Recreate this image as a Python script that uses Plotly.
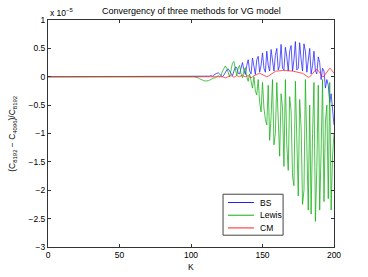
import plotly.graph_objects as go

# Strike grid
K = list(range(0, 201))

# Relative differences, in units of 1e-5
BS = [
    0, 0, 0, 0, 0, 0, 0, 0, 0, 0,   # 0-9
    0, 0, 0, 0, 0, 0, 0, 0, 0, 0,   # 10-19
    0, 0, 0, 0, 0, 0, 0, 0, 0, 0,   # 20-29
    0, 0, 0, 0, 0, 0, 0, 0, 0, 0,   # 30-39
    0, 0, 0, 0, 0, 0, 0, 0, 0, 0,   # 40-49
    0, 0, 0, 0, 0, 0, 0, 0, 0, 0,   # 50-59
    0, 0, 0, 0, 0, 0, 0, 0, 0, 0,   # 60-69
    0, 0, 0, 0, 0, 0, 0, 0, 0, 0,   # 70-79
    0, 0, 0, 0, 0, 0, 0, 0, 0, 0,   # 80-89
    0, 0, 0, 0, 0, 0, 0, 0, 0, 0,   # 90-99
    0, 0, 0, 0, 0, 0, 0, 0, 0, 0,   # 100-109
    0, 0, 0, 0.01, 0.02, 0.01, 0.03, 0.05, 0.06, 0.07,   # 110-119
    0.05, 0.02, 0.0, 0.03, 0.08, 0.12, 0.14, 0.10, 0.04, 0.02,   # 120-129
    0.10, 0.17, 0.16, 0.06, 0.05, 0.18, 0.25, 0.12, 0.04, 0.20,   # 130-139
    0.30, 0.10, 0.05, 0.33, 0.15, 0.04, 0.30, 0.36, 0.08, 0.20,   # 140-149
    0.42, 0.15, 0.08, 0.45, 0.20, 0.10, 0.48, 0.30, 0.10, 0.38,   # 150-159
    0.50, 0.12, 0.20, 0.57, 0.15, 0.12, 0.52, 0.35, 0.10, 0.45,   # 160-169
    0.55, 0.10, 0.30, 0.62, 0.12, 0.15, 0.60, 0.30, 0.10, 0.58,   # 170-179
    0.45, 0.08, 0.35, 0.50, 0.05, 0.20, 0.45, 0.10, 0.05, 0.35,   # 180-189
    0.25, -0.05, 0.15, 0.10, -0.20, -0.05, -0.15, -0.45, -0.30, -0.60,   # 190-199
    -0.85,   # 200
]

Lewis = [
    0, 0, 0, 0, 0, 0, 0, 0, 0, 0,   # 0-9
    0, 0, 0, 0, 0, 0, 0, 0, 0, 0,   # 10-19
    0, 0, 0, 0, 0, 0, 0, 0, 0, 0,   # 20-29
    0, 0, 0, 0, 0, 0, 0, 0, 0, 0,   # 30-39
    0, 0, 0, 0, 0, 0, 0, 0, 0, 0,   # 40-49
    0, 0, 0, 0, 0, 0, 0, 0, 0, 0,   # 50-59
    0, 0, 0, 0, 0, 0, 0, 0, 0, 0,   # 60-69
    0, 0, 0, 0, 0, 0, 0, 0, 0, 0,   # 70-79
    0, 0, 0, 0, 0, 0, 0, 0, 0.003, 0.005,   # 80-89
    0.008, 0.01, 0.01, 0.012, 0.01, 0.008, 0.005, 0.003, 0.0, 0.005,   # 90-99
    0.01, 0.005, 0.0, -0.005, -0.01, -0.02, -0.035, -0.05, -0.06, -0.07,   # 100-109
    -0.075, -0.075, -0.07, -0.06, -0.045, -0.03, -0.02, -0.02, 0.0, 0.02,   # 110-119
    0.0, 0.02, 0.10, 0.16, 0.19, 0.15, 0.05, 0.0, 0.12, 0.24,   # 120-129
    0.27, 0.12, 0.02, 0.15, 0.20, 0.05, -0.02, 0.10, 0.16, 0.0,   # 130-139
    -0.08, 0.05, -0.12, -0.20, 0.0, -0.25, -0.32, -0.05, -0.45, -0.62,   # 140-149
    -0.10, -0.55, -0.75, -0.85, -0.15, -1.12, -0.70, -0.05, -1.20, -1.00,   # 150-159
    -0.10, -0.90, -1.40, -0.30, -0.55, -1.58, -0.05, -1.20, -1.65, -0.35,   # 160-169
    -0.60, -1.75, -1.92, -0.08, -1.30, -2.10, -0.40, -0.90, -2.25, -2.00,   # 170-179
    -0.05, -1.50, -2.35, -0.50, -2.42, -1.00, -0.10, -2.55, -1.60, -0.15,   # 180-189
    -2.35, -1.30, -0.05, -2.20, -0.80, -0.50, -2.15, -0.10, -2.35, -1.40,   # 190-199
    -1.00,   # 200
]

CM = [
    0, 0, 0, 0, 0, 0, 0, 0, 0, 0,   # 0-9
    0, 0, 0, 0, 0, 0, 0, 0, 0, 0,   # 10-19
    0, 0, 0, 0, 0, 0, 0, 0, 0, 0,   # 20-29
    0, 0, 0, 0, 0, 0, 0, 0, 0, 0,   # 30-39
    0, 0, 0, 0, 0, 0, 0, 0, 0, 0,   # 40-49
    0, 0, 0, 0, 0, 0, 0, 0, 0, 0,   # 50-59
    0, 0, 0, 0, 0, 0, 0, 0, 0, 0,   # 60-69
    0, 0, 0, 0, 0, 0, 0, 0, 0, 0,   # 70-79
    0, 0, 0, 0, 0, 0, 0, 0, 0, 0,   # 80-89
    0, 0, 0, 0, 0, 0, 0, 0, 0, 0,   # 90-99
    0, 0, 0, 0, 0, 0, 0, 0, 0, 0,   # 100-109
    0, 0, 0, 0, 0, 0, 0, 0, 0.0, 0.005,   # 110-119
    0.01, 0.005, 0.0, -0.01, -0.02, -0.01, 0.0, 0.01, 0.02, 0.005,   # 120-129
    -0.01, 0.005, 0.02, 0.01, 0.0, 0.015, 0.03, 0.01, 0.0, 0.01,   # 130-139
    0.02, 0.0, -0.02, 0.0, 0.02, 0.03, 0.04, 0.05, 0.06, 0.05,   # 140-149
    0.04, 0.02, 0.01, 0.0, 0.01, 0.03, 0.05, 0.07, 0.085, 0.095,   # 150-159
    0.10, 0.105, 0.11, 0.11, 0.11, 0.11, 0.11, 0.11, 0.105, 0.10,   # 160-169
    0.10, 0.10, 0.095, 0.09, 0.085, 0.08, 0.075, 0.07, 0.06, 0.045,   # 170-179
    0.03, 0.01, -0.01, 0.0, 0.02, 0.05, 0.09, 0.12, 0.13, 0.11,   # 180-189
    0.08, 0.04, 0.0, 0.01, 0.04, 0.08, 0.12, 0.15, 0.13, 0.10,   # 190-199
    0.06,   # 200
]

series_names = ["BS", "Lewis", "CM"]
series_colors = ["#2020ff", "#10b010", "#ff2020"]

x_ticks = [0, 50, 100, 150, 200]
y_ticks = [-3, -2.5, -2, -1.5, -1, -0.5, 0, 0.5, 1]
y_labels = ["\u22123", "\u22122.5", "\u22122", "\u22121.5", "\u22121", "\u22120.5", "0", "0.5", "1"]

FONT = "Liberation Sans, Arial, Helvetica, sans-serif"
TXT = dict(family=FONT, size=8.5, color="#000")
TITLE_TXT = dict(family=FONT, size=9, color="#000")

fig = go.Figure()
for name, vals, col in zip(series_names, [BS, Lewis, CM], series_colors):
    fig.add_trace(go.Scatter(x=K, y=vals, mode="lines", name=name,
                             line=dict(color=col, width=0.75), showlegend=False))

axis_common = dict(showgrid=False, zeroline=False, showline=True, mirror="ticks",
                   linecolor="#333333", linewidth=1, ticks="inside", ticklen=3,
                   tickcolor="#333333", tickfont=TXT)

# Legend box (drawn as a guide in paper coordinates)
lg_x0, lg_x1, lg_y0, lg_y1 = 0.612, 0.822, 0.052, 0.2325
key_x0, key_x1, lab_x = 0.629, 0.720, 0.734
key_y = [0.196, 0.140, 0.084]

shapes = [dict(type="rect", xref="paper", yref="paper", x0=lg_x0, x1=lg_x1,
               y0=lg_y0, y1=lg_y1, line=dict(color="#444444", width=1),
               fillcolor="white", layer="above")]
annotations = []
for name, col, ky in zip(series_names, series_colors, key_y):
    shapes.append(dict(type="line", xref="paper", yref="paper", x0=key_x0, x1=key_x1,
                       y0=ky, y1=ky, line=dict(color=col, width=1), layer="above"))
    annotations.append(dict(text=name, xref="paper", yref="paper", x=lab_x, y=ky,
                            xanchor="left", yanchor="middle", showarrow=False, font=TXT))

annotations += [
    dict(text="x 10<sup>\u22125</sup>", xref="paper", yref="paper", x=0, y=1.0,
         xanchor="left", yanchor="bottom", showarrow=False, font=TXT),
    dict(text="(C<sub>8192</sub> \u2212 C<sub>4096</sub>)/C<sub>8192</sub>",
         xref="paper", yref="paper", x=-0.125, y=0.5, textangle=-90,
         xanchor="center", yanchor="middle", showarrow=False, font=TXT),
    dict(text="K", xref="paper", yref="paper", x=0.5, y=-0.088,
         xanchor="center", yanchor="middle", showarrow=False, font=TXT),
]

fig.update_layout(
    width=368, height=277,
    margin=dict(l=48, r=34, t=20, b=30),
    paper_bgcolor="white", plot_bgcolor="white",
    font=TXT,
    title=dict(text="Convergency of three methods for VG model", x=0.52, xanchor="center",
               y=0.962, yanchor="middle", pad=dict(t=0, b=0, l=0, r=0), font=TITLE_TXT),
    xaxis=dict(range=[0, 200], tickvals=x_ticks, **axis_common),
    yaxis=dict(range=[-3, 1], tickvals=y_ticks, ticktext=y_labels, **axis_common),
    showlegend=False,
    shapes=shapes,
    annotations=annotations,
)

# Remove the default page margin so the figure sits at the window's top-left corner.
fig.write_html("out.html", config={"displayModeBar": False},
               post_script="document.body.style.margin='0';")
